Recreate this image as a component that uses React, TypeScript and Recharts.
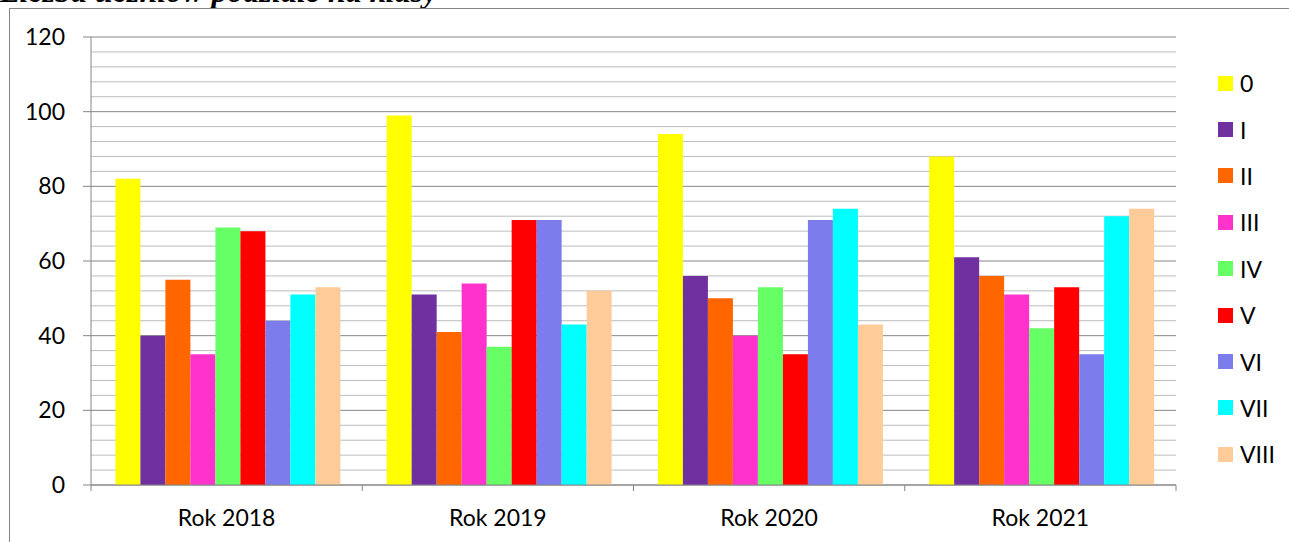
import React from "react";
import { BarChart, Bar, XAxis, YAxis, CartesianGrid } from "recharts";

const years = ["Rok 2018", "Rok 2019", "Rok 2020", "Rok 2021"];
const classNames = ["0", "I", "II", "III", "IV", "V", "VI", "VII", "VIII"];

const class0 = [82, 99, 94, 88];
const classI = [40, 51, 56, 61];
const classII = [55, 41, 50, 56];
const classIII = [35, 54, 40, 51];
const classIV = [69, 37, 53, 42];
const classV = [68, 71, 35, 53];
const classVI = [44, 71, 71, 35];
const classVII = [51, 43, 74, 72];
const classVIII = [53, 52, 43, 74];

const Y_MAX = 120;
const yTicks = [0, 20, 40, 60, 80, 100, 120];
const minorTicks = [
  4, 8, 12, 16, 24, 28, 32, 36, 44, 48, 52, 56, 64, 68, 72, 76, 84, 88, 92, 96,
  104, 108, 112, 116,
];

const colors = [
  "#FFFF00",
  "#7030A0",
  "#FF6600",
  "#FF33CC",
  "#66FF66",
  "#FF0000",
  "#7C7CEC",
  "#00FFFF",
  "#FFCC99",
];

const series = [class0, classI, classII, classIII, classIV, classV, classVI, classVII, classVIII];

const data = years.map((year, i) => {
  const row: Record<string, string | number> = { year };
  classNames.forEach((name, k) => {
    row[name] = series[k][i];
  });
  return row;
});

const W = 1289;
const H = 542;
const PLOT_LEFT = 91;
const PLOT_RIGHT = 1176;
const PLOT_TOP = 37;
const PLOT_BOTTOM = 485;
const BAND = (PLOT_RIGHT - PLOT_LEFT) / years.length;
const FONT = "Lato, 'Open Sans', sans-serif";
const AXIS = "#868686";

// minor grid rows, taken from the axis scale when available
function minorRows({ yAxis, offset }: any) {
  return minorTicks.map((t) => {
    if (yAxis && typeof yAxis.scale === "function") return yAxis.scale(t);
    return offset.top + offset.height * (1 - t / Y_MAX);
  });
}

function YearTick(props: any) {
  const { x, y, payload, index } = props;
  const left = x - BAND / 2;
  const right = x + BAND / 2;
  return (
    <g>
      <line x1={left} y1={y} x2={left} y2={y + 6} stroke={AXIS} />
      {index === years.length - 1 && (
        <line x1={right} y1={y} x2={right} y2={y + 6} stroke={AXIS} />
      )}
      <text
        x={x}
        y={y + 32}
        textAnchor="middle"
        dominantBaseline="central"
        fill="#000"
        fontSize={23}
        fontFamily={FONT}
      >
        {payload.value}
      </text>
    </g>
  );
}

export default function App() {
  return (
    <div
      style={{
        position: "absolute",
        left: 0,
        top: 0,
        width: W,
        height: H,
        overflow: "hidden",
        background: "#fff",
      }}
    >
      <div
        style={{
          position: "absolute",
          left: 0,
          top: -25,
          fontFamily: "'Liberation Serif', serif",
          fontWeight: "bold",
          fontStyle: "italic",
          fontSize: 32,
          lineHeight: "32px",
          whiteSpace: "nowrap",
        }}
      >
        Liczba uczniów podziale na klasy
      </div>
      <div
        style={{
          position: "absolute",
          left: 9,
          top: 8,
          width: 1400,
          height: 700,
          border: `1px solid ${AXIS}`,
        }}
      />
      <div style={{ position: "absolute", left: 0, top: 0 }}>
        <BarChart
          width={W}
          height={H}
          data={data}
          margin={{ top: PLOT_TOP, right: W - PLOT_RIGHT, bottom: 0, left: 0 }}
          barCategoryGap="9%"
          barGap={0}
        >
          <CartesianGrid
            vertical={false}
            stroke="#BCBCBC"
            horizontalCoordinatesGenerator={minorRows}
          />
          <CartesianGrid vertical={false} stroke={AXIS} />
          <XAxis
            dataKey="year"
            height={H - PLOT_BOTTOM}
            axisLine={{ stroke: AXIS }}
            tickLine={false}
            tickSize={0}
            tickMargin={0}
            tick={<YearTick />}
            interval={0}
          />
          <YAxis
            width={PLOT_LEFT}
            domain={[0, Y_MAX]}
            ticks={yTicks}
            axisLine={{ stroke: AXIS }}
            tickLine={{ stroke: AXIS }}
            tickSize={8}
            tickMargin={18}
            tick={{ fill: "#000", fontSize: 23, fontFamily: FONT }}
          />
          {classNames.map((name, k) => (
            <Bar
              key={name}
              dataKey={name}
              fill={colors[k]}
              isAnimationActive={false}
            />
          ))}
        </BarChart>
      </div>
      <div style={{ position: "absolute", left: 1218, top: 60 }}>
        {classNames.map((name, k) => (
          <div
            key={name}
            style={{
              height: 46.4,
              display: "flex",
              alignItems: "center",
              fontFamily: FONT,
              fontSize: 23,
              color: "#000",
            }}
          >
            <span
              style={{
                display: "inline-block",
                width: 15,
                height: 15,
                background: colors[k],
                marginRight: 7,
              }}
            />
            {name}
          </div>
        ))}
      </div>
    </div>
  );
}
